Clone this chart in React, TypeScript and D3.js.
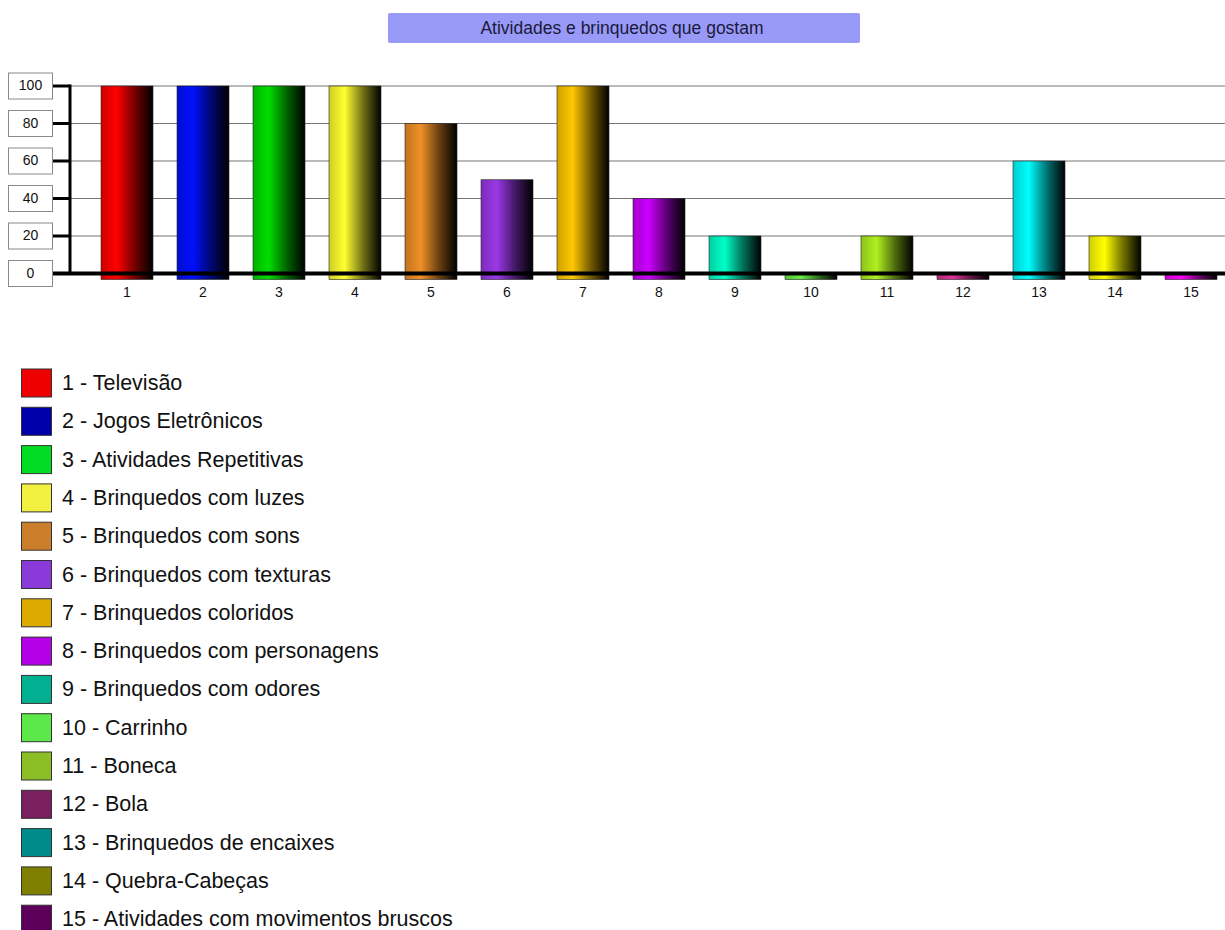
import React from "react";
import * as d3 from "d3";

const W = 1225;
const H = 930;

const chartTitle = "Atividades e brinquedos que gostam";
const categories = ["1", "2", "3", "4", "5", "6", "7", "8", "9", "10", "11", "12", "13", "14", "15"];
const values = [100, 100, 100, 100, 80, 50, 100, 40, 20, 0, 20, 0, 60, 20, 0];
const barColors = [
  "#ff0000", "#0010ff", "#00dd00", "#ffff30", "#f09028",
  "#9a38e8", "#ffc800", "#cc00ff", "#00ffc8", "#66ee44",
  "#b0f020", "#dd3399", "#00ffff", "#ffff00", "#ff00ff",
];
const yTicks = [0, 20, 40, 60, 80, 100];
const legendLabels = [
  "1 - Televisão",
  "2 - Jogos Eletrônicos",
  "3 - Atividades Repetitivas",
  "4 - Brinquedos com luzes",
  "5 - Brinquedos com sons",
  "6 - Brinquedos com texturas",
  "7 - Brinquedos coloridos",
  "8 - Brinquedos com personagens",
  "9 - Brinquedos com odores",
  "10 - Carrinho",
  "11 - Boneca",
  "12 - Bola",
  "13 - Brinquedos de encaixes",
  "14 - Quebra-Cabeças",
  "15 - Atividades com movimentos bruscos",
];
const legendColors = [
  "#ee0000", "#0000aa", "#00dd22", "#f2f040", "#cc7f2a",
  "#8a3ad8", "#dcaa00", "#b300e6", "#00b090", "#5de84a",
  "#8cbf26", "#7a2060", "#008b8b", "#7f7f00", "#5c005c",
];

const FONT = "Arial, 'Liberation Sans', sans-serif";

export default function App() {
  const y = d3.scaleLinear().domain([0, 100]).range([273.5, 86]);
  const x = d3.scaleBand<string>().domain(categories).range([77, 1241]).padding(0.316);
  const baseY = y(0);
  const barBottom = baseY + 6;

  return (
    <svg
      width={W}
      height={H}
      style={{ position: "absolute", left: 0, top: 0, background: "#fff" }}
      fontFamily={FONT}
    >
      <defs>
        {barColors.map((c, i) => {
          const col = d3.color(c)!;
          const dark = d3.color(c)!.darker(0.6);
          return (
            <linearGradient key={i} id={`bar-grad-${i}`} x1="0" x2="1" y1="0" y2="0">
              <stop offset="0%" stopColor={dark.formatHex()} />
              <stop offset="30%" stopColor={col.formatHex()} />
              <stop offset="65%" stopColor={d3.interpolateRgb(c, "#000")(0.55)} />
              <stop offset="100%" stopColor="#000" />
            </linearGradient>
          );
        })}
      </defs>

      {/* title banner */}
      <rect x={388} y={13} width={472} height={30} rx={2} fill="#9999f8" />
      <text x={622} y={28} textAnchor="middle" dominantBaseline="central" fontSize={17.5} fill="#1a1a3a">
        {chartTitle}
      </text>

      {/* horizontal grid */}
      {yTicks.filter((t) => t > 0).map((t) => (
        <line key={t} x1={70} x2={W} y1={y(t)} y2={y(t)} stroke="#777" strokeWidth={1} />
      ))}

      {/* bars */}
      {categories.map((c, i) => {
        const bx = x(c)!;
        const top = y(values[i]);
        return (
          <rect
            key={c}
            x={bx}
            y={top}
            width={x.bandwidth()}
            height={barBottom - top}
            fill={`url(#bar-grad-${i})`}
            stroke="#222"
            strokeWidth={0.6}
          />
        );
      })}

      {/* axes */}
      <line x1={52} x2={W} y1={baseY} y2={baseY} stroke="#000" strokeWidth={4} />
      <line x1={70} x2={70} y1={y(100) - 1.5} y2={baseY} stroke="#000" strokeWidth={3} />
      {yTicks.map((t) => (
        <g key={t}>
          <line x1={52} x2={70} y1={y(t)} y2={y(t)} stroke="#000" strokeWidth={3} />
          <rect x={8.5} y={y(t) - 13} width={44} height={26} fill="#fff" stroke="#8a8a8a" strokeWidth={1} />
          <text x={30.5} y={y(t) - 1} textAnchor="middle" dominantBaseline="central" fontSize={14} fill="#111">
            {t}
          </text>
        </g>
      ))}

      {/* category labels */}
      {categories.map((c) => (
        <text key={c} x={x(c)! + x.bandwidth() / 2} y={297} textAnchor="middle" fontSize={14} fill="#111">
          {c}
        </text>
      ))}

      {/* legend */}
      {legendLabels.map((l, i) => {
        const cy = 383 + i * 38.3;
        return (
          <g key={l}>
            <rect x={21.5} y={cy - 14} width={30} height={28} fill={legendColors[i]} stroke="#333" strokeWidth={1} />
            <text x={62} y={cy} dominantBaseline="central" fontSize={21.5} fill="#111">
              {l}
            </text>
          </g>
        );
      })}
    </svg>
  );
}
